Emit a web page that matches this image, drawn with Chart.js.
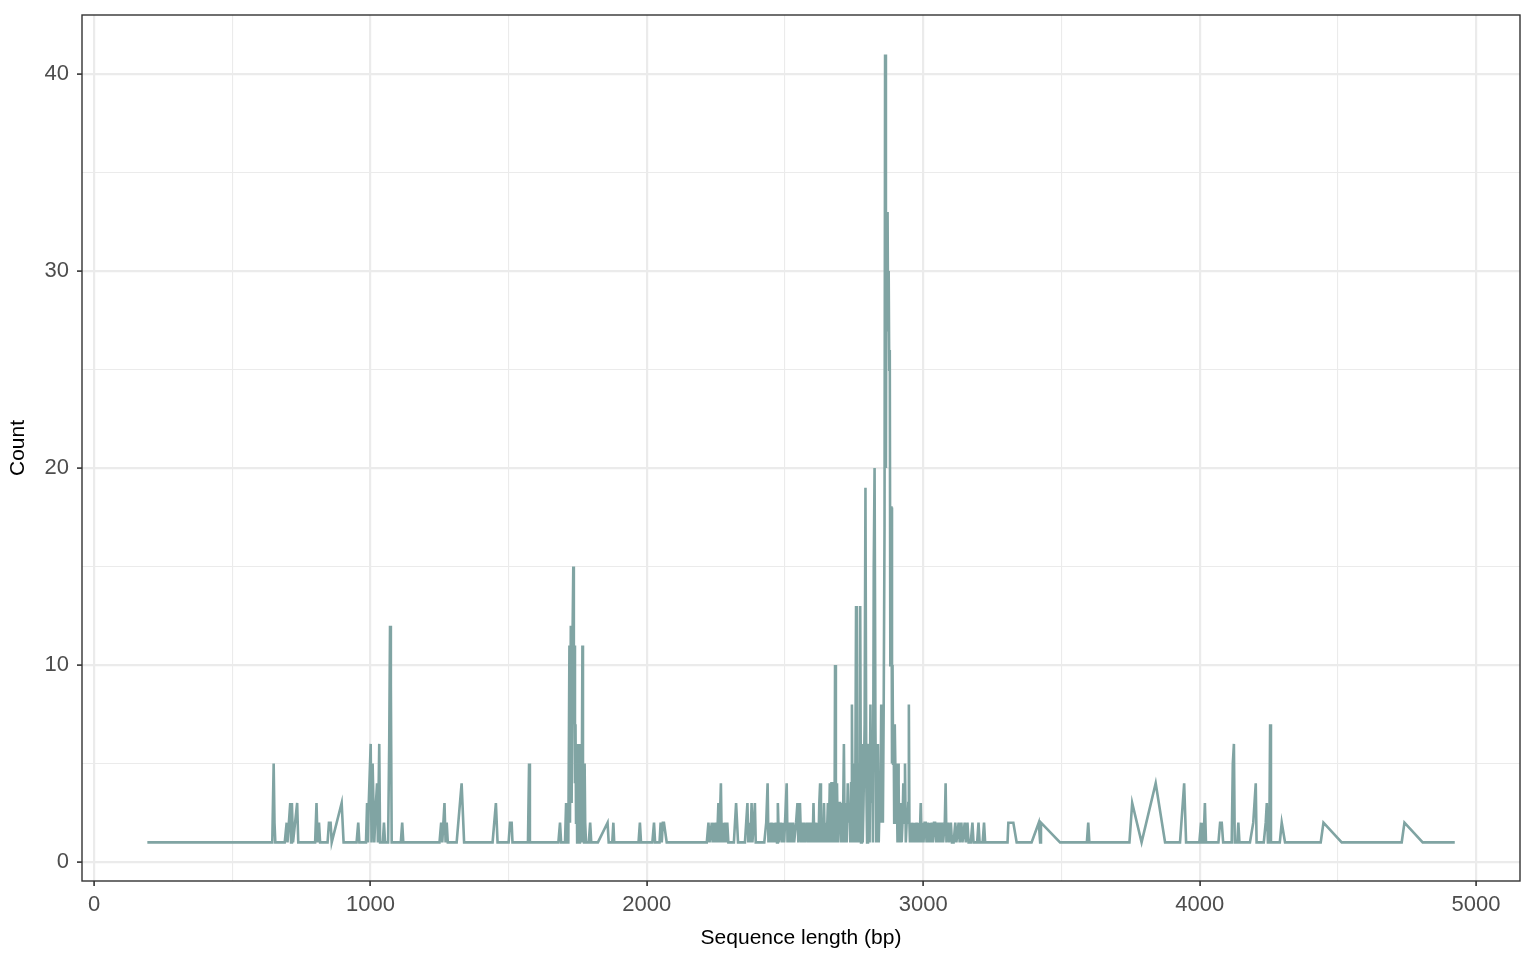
<!DOCTYPE html>
<html>
<head>
<meta charset="utf-8">
<script src="https://cdn.jsdelivr.net/npm/chart.js@4.4.1/dist/chart.umd.min.js"></script>
<style>
html,body{margin:0;padding:0;background:#fff;}
#wrap{width:1536px;height:960px;position:relative;}
</style>
</head>
<body>
<div id="wrap"><canvas id="c" width="1536" height="960"></canvas></div>
<script>
// ---- data: (sequence length, count) pairs ----
const lengths = [
193,645,650,653,656,690,697,700,710,713,716,720,735,739,800,805,809,814,818,845,850,856,860,896,903,
950,956,960,984,988,991,994,1001,1004,1008,1011,1014,1020,1024,1027,1032,1035,1045,1049,1053,1064,1068,1071,1074,1077,
1110,1115,1119,1250,1256,1260,1264,1268,1272,1276,1280,1312,1330,1339,1442,1454,1460,1500,1505,1511,1514,1570,1574,1577,
1680,1686,1690,1704,1708,1711,1716,1720,1722,1725,1728,1731,1734,1736,1738,1740,1742,1744,1746,1748,1750,1752,1754,1756,
1758,1760,1762,1764,1767,1769,1771,1773,1775,1777,1780,1790,1795,1799,1823,1858,1862,1875,1879,1882,
1970,1975,1979,2020,2026,2030,2046,2050,2054,2058,2062,2072,
2217,2223,2227,2235,2238,2242,2245,2250,2254,2259,2262,2268,2271,2276,2279,2283,2287,2291,2295,
2315,2323,2330,2355,2364,2367,2372,2375,2379,2382,2387,2391,2394,
2425,2432,2437,2440,2444,2447,2451,2455,2458,2462,2467,2471,2474,2478,2485,2489,2494,2497,2500,2506,2509,2513,2517,
2521,2525,2529,2533,2540,2545,2548,2552,2554,2558,2562,2566,2570,2574,2580,2584,2588,2592,2596,2600,2603,2606,2610,
2614,2618,2621,2624,2627,2630,2634,2637,2641,2644,2648,2651,2655,2658,2662,2665,2668,2671,2673,2676,2679,2681,2684,
2688,2691,2695,2699,2702,2706,2709,2713,2716,2720,2723,2727,2730,2733,2736,2739,2742,2745,2748,2751,2754,2757,2760,
2763,2766,2769,2772,2775,2778,2781,2784,2788,2791,2794,2797,2800,2803,2806,2809,2812,2815,2818,2821,2824,2827,2830,
2833,2836,2839,2842,2845,2848,2851,2854,2857,2860,2862,2865,2867,2869,2871,2873,2875,2877,2879,2881,2883,2885,2887,
2889,2891,2893,2895,2897,2899,2901,2903,2905,2907,2909,2911,2913,2916,2919,2922,2925,2928,2931,2934,2937,2940,2943,
2946,2948,2950,2952,2955,2958,2962,2965,2968,2972,2976,2980,2984,2987,2991,2994,2998,3001,3005,3009,3012,3016,3020,
3024,3027,3031,3035,3039,3043,3047,3051,3055,3060,3064,3068,3072,3078,3081,3084,3090,3094,3100,3104,3110,3116,3120,
3128,3132,3138,3142,3150,3154,3160,3164,3172,3178,3182,3195,3200,3204,3215,3220,3224,
3305,3308,3326,3338,3392,3418,3423,3426,3495,3592,3597,3601,3746,3756,3790,3841,3875,3929,3944,3951,
3999,4005,4008,4014,4019,4023,4068,4074,4080,4085,4116,4120,4124,4127,4136,4140,4144,4182,4194,4203,4206,
4232,4239,4243,4247,4252,4255,4258,4290,4297,4309,4438,4448,4514,4731,4741,4807,4923
];
const counts = [
1,1,5,2,1,1,2,1,3,1,3,1,3,1,1,3,1,2,1,1,2,2,1,3,1,
1,2,1,1,3,1,3,6,1,5,3,1,3,4,1,6,1,1,2,1,1,6,12,9,1,
1,2,1,1,2,1,2,3,1,2,1,1,4,1,1,3,1,1,2,2,1,1,5,1,
1,2,1,1,3,1,1,11,2,12,3,11,15,7,11,4,7,2,6,1,6,3,6,1,
6,2,5,1,11,2,5,1,5,2,1,1,2,1,1,2,1,1,2,1,
1,2,1,1,2,1,1,2,1,2,2,1,
1,2,1,2,1,2,1,2,1,3,1,4,1,2,1,2,1,2,1,
1,3,1,1,3,1,2,1,3,1,2,3,1,
1,2,4,1,2,1,2,1,2,1,2,1,3,1,2,1,2,1,2,4,1,2,1,
2,1,2,1,2,3,1,2,3,1,2,1,2,1,2,1,2,1,2,1,3,1,2,
1,2,1,3,4,1,2,1,3,1,2,1,3,1,4,1,4,4,1,4,1,10,1,
4,1,3,3,1,3,1,6,1,3,1,4,2,3,1,4,8,1,5,1,3,13,1,
5,1,3,13,1,6,1,3,7,19,4,1,3,6,1,8,3,6,1,15,20,7,1,
3,6,1,3,2,8,4,2,8,17,41,20,33,32,33,27,30,25,26,10,18,18,5,
10,5,7,2,7,5,2,5,3,1,5,4,1,2,3,1,2,4,2,5,1,2,2,
3,8,2,1,2,1,2,1,2,1,2,1,2,1,3,1,2,1,2,2,1,2,1,
2,1,2,1,2,2,1,2,1,2,1,2,1,2,4,1,2,1,2,1,1,2,1,
2,1,2,1,2,1,2,1,1,2,1,1,2,1,1,2,1,
1,2,2,1,1,2,1,2,1,1,2,1,1,3,1,4,1,1,4,1,
1,2,1,1,3,1,1,2,2,1,1,5,6,1,1,2,1,1,2,4,1,
1,2,3,1,1,7,1,1,2,1,1,2,1,1,2,1,1
];
const xTicks = [0,500,1000,1500,2000,2500,3000,3500,4000,4500,5000];
const yTicks = [0,5,10,15,20,25,30,35,40];
const xTitle = 'Sequence length (bp)';
const yTitle = 'Count';

const points = lengths.map((x, i) => ({x: x, y: counts[i]}));

const FONT = '"Liberation Sans", Arial, Helvetica, sans-serif';
const isMajorX = v => v % 1000 === 0;
const isMajorY = v => v % 10 === 0;

const panelBorder = {
  id: 'panelBorder',
  afterDraw(chart) {
    const a = chart.chartArea, ctx = chart.ctx;
    ctx.save();
    ctx.strokeStyle = '#333333';
    ctx.lineWidth = 1.4;
    ctx.strokeRect(a.left, a.top, a.right - a.left, a.bottom - a.top);
    ctx.restore();
  }
};

new Chart(document.getElementById('c'), {
  type: 'scatter',
  data: {
    datasets: [{
      data: points,
      showLine: true,
      borderColor: '#80a4a3',
      borderWidth: 2.6,
      pointRadius: 0,
      pointHoverRadius: 0,
      tension: 0,
      fill: false
    }]
  },
  options: {
    responsive: false,
    animation: false,
    devicePixelRatio: 1,
    layout: {padding: {left: 0, right: 16, top: 15, bottom: 0}},
    plugins: {legend: {display: false}, tooltip: {enabled: false}},
    scales: {
      x: {
        type: 'linear',
        min: -43.4,
        max: 5159,
        afterBuildTicks: s => { s.ticks = xTicks.map(v => ({value: v})); },
        afterFit: s => { s.height = 79; s.paddingLeft = 0; s.paddingRight = 0; },
        border: {display: false},
        grid: {
          color: '#ebebeb',
          lineWidth: c => isMajorX(c.tick.value) ? 2.2 : 1.1,
          tickColor: c => isMajorX(c.tick.value) ? '#333333' : 'rgba(0,0,0,0)',
          tickWidth: 1.6,
          tickLength: 5,
          drawTicks: true
        },
        ticks: {
          autoSkip: false,
          maxRotation: 0,
          padding: 6,
          color: '#4d4d4d',
          font: {family: FONT, size: 22},
          callback: v => isMajorX(v) ? String(v) : ''
        },
        title: {
          display: true,
          text: xTitle,
          color: '#000000',
          font: {family: FONT, size: 21},
          padding: {top: 0, bottom: 9}
        }
      },
      y: {
        type: 'linear',
        min: -0.96,
        max: 43.0,
        afterBuildTicks: s => { s.ticks = yTicks.map(v => ({value: v})); },
        afterFit: s => { s.width = 82; s.paddingTop = 0; s.paddingBottom = 0; },
        border: {display: false},
        grid: {
          color: '#ebebeb',
          lineWidth: c => isMajorY(c.tick.value) ? 2.2 : 1.1,
          tickColor: c => isMajorY(c.tick.value) ? '#333333' : 'rgba(0,0,0,0)',
          tickWidth: 1.6,
          tickLength: 5,
          drawTicks: true
        },
        ticks: {
          autoSkip: false,
          padding: 8,
          color: '#4d4d4d',
          font: {family: FONT, size: 22},
          callback: v => isMajorY(v) ? String(v) : ''
        },
        title: {
          display: true,
          text: yTitle,
          color: '#000000',
          font: {family: FONT, size: 21},
          padding: {top: 6, bottom: 0}
        }
      }
    }
  },
  plugins: [panelBorder]
});
</script>
</body>
</html>
